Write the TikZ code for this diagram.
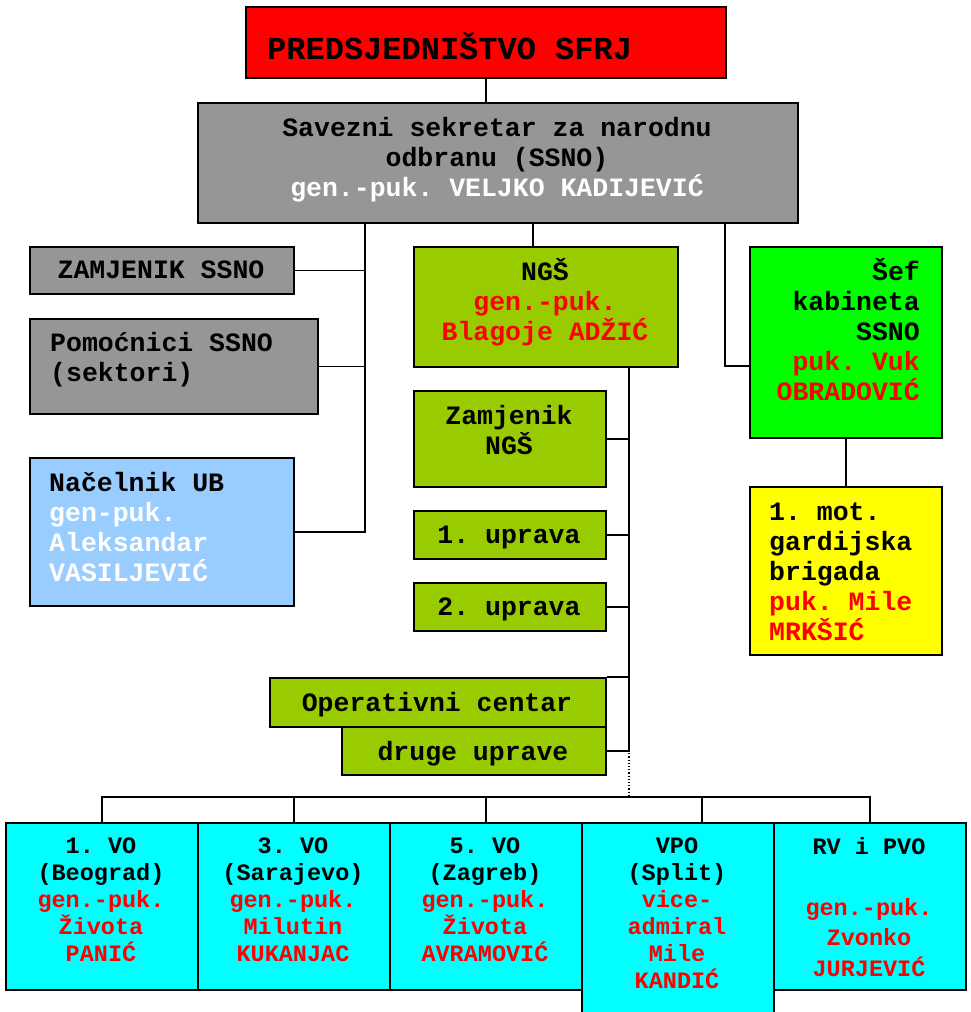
\documentclass[tikz,border=0pt]{standalone}
\usepackage{fontspec}
\newfontfamily\courfont{Liberation Mono}
\usetikzlibrary{positioning,calc}

\definecolor{predred}{HTML}{FF0000}
\definecolor{ssnogray}{HTML}{969696}
\definecolor{ngsgreen}{HTML}{99CC00}
\definecolor{ubblue}{HTML}{99CCFF}
\definecolor{sefgreen}{HTML}{00FF00}
\definecolor{gbryellow}{HTML}{FFFF00}
\definecolor{vocyan}{HTML}{00FFFF}
\definecolor{txtred}{HTML}{FF0000}

\newcommand{\lnstrut}{\rule{0pt}{0.95em}}
\newcommand{\rd}[1]{\textcolor{txtred}{#1}}
\newcommand{\wh}[1]{\textcolor{white}{#1}}

\tikzset{
  orgbox/.style={draw, line width=1.8pt, inner sep=0pt, anchor=north west},
  bigtxt/.style={font=\courfont\bfseries\frenchspacing\fontsize{32}{36}\selectfont, inner sep=0pt, yshift=20.8pt},
  midtxt/.style={font=\courfont\bfseries\frenchspacing\fontsize{26.5}{30}\selectfont, inner sep=0pt, yshift=17.2pt},
  smalltxt/.style={font=\courfont\bfseries\frenchspacing\fontsize{23.5}{27}\selectfont, inner sep=0pt, yshift=15.3pt, anchor=north, align=center},
  link/.style={line width=1.8pt}
}

\begin{document}
\begin{tikzpicture}[x=1pt, y=-1pt]
  \useasboundingbox (0,0) rectangle (971,1012);

  % boxes
  \node[orgbox, fill=predred, minimum width=480pt, minimum height=71pt] (pred) at (245,6) {};
  \node[orgbox, fill=ssnogray, minimum width=600pt, minimum height=120pt] (ssno) at (197,102) {};
  \node[orgbox, fill=ssnogray, minimum width=264pt, minimum height=47pt] (zamssno) at (29,246) {};
  \node[orgbox, fill=ssnogray, minimum width=288pt, minimum height=95pt] (pomoc) at (29,318) {};
  \node[orgbox, fill=ubblue, minimum width=264pt, minimum height=148pt] (nacub) at (29,457) {};
  \node[orgbox, fill=ngsgreen, minimum width=264pt, minimum height=120pt] (ngs) at (413,246) {};
  \node[orgbox, fill=ngsgreen, minimum width=192pt, minimum height=96pt] (zamngs) at (413,390) {};
  \node[orgbox, fill=ngsgreen, minimum width=192pt, minimum height=48pt] (upr1) at (413,510) {};
  \node[orgbox, fill=ngsgreen, minimum width=192pt, minimum height=48pt] (upr2) at (413,582) {};
  \node[orgbox, fill=ngsgreen, minimum width=336pt, minimum height=49pt] (opcen) at (269,677) {};
  \node[orgbox, fill=ngsgreen, minimum width=264pt, minimum height=48pt] (druge) at (341,726) {};
  \node[orgbox, fill=sefgreen, minimum width=192pt, minimum height=191pt] (sefkab) at (749,246) {};
  \node[orgbox, fill=gbryellow, minimum width=192pt, minimum height=168pt] (gbr) at (749,486) {};
  \node[orgbox, fill=vocyan, minimum width=192pt, minimum height=167pt] (vo1) at (5,822) {};
  \node[orgbox, fill=vocyan, minimum width=192pt, minimum height=167pt] (vo3) at (197,822) {};
  \node[orgbox, fill=vocyan, minimum width=192pt, minimum height=167pt] (vo5) at (389,822) {};
  \node[orgbox, fill=vocyan, minimum width=192pt, minimum height=200pt] (vpo) at (581,822) {};
  \node[orgbox, fill=vocyan, minimum width=192pt, minimum height=167pt] (rvpvo) at (773,822) {};

  % texts
  \node[bigtxt, anchor=north west] (pred-t) at (267,50) {\lnstrut PREDSJEDNIŠTVO SFRJ};
  \node[midtxt, anchor=north, align=center] (ssno-t) at (497,128)
    {\lnstrut Savezni sekretar za narodnu\\odbranu (SSNO)\\\wh{gen.-puk. VELJKO KADIJEVIĆ}};
  \node[midtxt, anchor=north] (zamssno-t) at (161,270) {\lnstrut ZAMJENIK SSNO};
  \node[midtxt, anchor=north west, align=left] (pomoc-t) at (50,343) {\lnstrut Pomoćnici SSNO\\(sektori)};
  \node[midtxt, anchor=north west, align=left] (nacub-t) at (49,483)
    {\lnstrut Načelnik UB\\\wh{gen-puk.}\\\wh{Aleksandar}\\\wh{VASILJEVIĆ}};
  \node[midtxt, anchor=north, align=center] (ngs-t) at (545,272)
    {\lnstrut NGŠ\\\rd{gen.-puk.}\\\rd{Blagoje ADŽIĆ}};
  \node[midtxt, anchor=north, align=center] (zamngs-t) at (509,416) {\lnstrut Zamjenik\\NGŠ};
  \node[midtxt, anchor=north] (upr1-t) at (509,535) {\lnstrut 1. uprava};
  \node[midtxt, anchor=north] (upr2-t) at (509,607) {\lnstrut 2. uprava};
  \node[midtxt, anchor=north] (opcen-t) at (437,703) {\lnstrut Operativni centar};
  \node[midtxt, anchor=north] (druge-t) at (473,752) {\lnstrut druge uprave};
  \node[midtxt, anchor=north east, align=right] (sefkab-t) at (920,272)
    {\lnstrut Šef\\kabineta\\SSNO\\\rd{puk. Vuk}\\\rd{OBRADOVIĆ}};
  \node[midtxt, anchor=north west, align=left] (gbr-t) at (769,512)
    {\lnstrut 1. mot.\\gardijska\\brigada\\\rd{puk. Mile}\\\rd{MRKŠIĆ}};
  \node[smalltxt] (vo1-t) at (101,846)
    {\lnstrut 1. VO\\(Beograd)\\\rd{gen.-puk.}\\\rd{Života}\\\rd{PANIĆ}};
  \node[smalltxt] (vo3-t) at (293,846)
    {\lnstrut 3. VO\\(Sarajevo)\\\rd{gen.-puk.}\\\rd{Milutin}\\\rd{KUKANJAC}};
  \node[smalltxt] (vo5-t) at (485,846)
    {\lnstrut 5. VO\\(Zagreb)\\\rd{gen.-puk.}\\\rd{Života}\\\rd{AVRAMOVIĆ}};
  \node[smalltxt] (vpo-t) at (677,846)
    {\lnstrut VPO\\(Split)\\\rd{vice-}\\\rd{admiral}\\\rd{Mile}\\\rd{KANDIĆ}};
  \node[smalltxt, font=\courfont\bfseries\frenchspacing\fontsize{23.5}{30.5}\selectfont] (rvpvo-t) at (869,847)
    {\lnstrut RV i PVO\\[30.5pt]\rd{gen.-puk.}\\\rd{Zvonko}\\\rd{JURJEVIĆ}};

  % connectors
  \coordinate (lbus) at (365,531);
  \coordinate (mbus) at (533,234);
  \coordinate (rbus) at (725,366);
  \coordinate (nbus) at (629,750);
  \coordinate (vbus) at (629,797);

  \draw[link] (pred.south) -- (pred.south |- ssno.north);
  \draw[link] (ssno.south -| lbus) |- (nacub.east);
  \draw[link] (zamssno.east) -- (zamssno.east -| lbus);
  \draw[link] (pomoc.east) -- (pomoc.east -| lbus);
  \draw[link] (ssno.south -| mbus) -- (ngs.north -| mbus);
  \draw[link] (ssno.south -| rbus) -- (rbus) -- (rbus -| sefkab.west);
  \draw[link] (sefkab) -- (gbr);
  \draw[link] (ngs.south -| nbus) |- (druge.east);
  \foreach \b in {zamngs, upr1, upr2}
    \draw[link] (\b.east) -- (\b.east -| nbus);
  \draw[link] (opcen.north east) -- (opcen.north east -| nbus);
  \draw[dotted, line width=1.2pt] (nbus) -- (vbus);
  \draw[link] (vo1.north) -- (vo1.north |- vbus) -- (rvpvo.north |- vbus) -- (rvpvo.north);
  \foreach \b in {vo3, vo5}
    \draw[link] (\b.north) -- (\b.north |- vbus);
  \draw[link] ([xshift=24pt]vpo.north) -- ([xshift=24pt]vpo.north |- vbus);
\end{tikzpicture}
\end{document}
